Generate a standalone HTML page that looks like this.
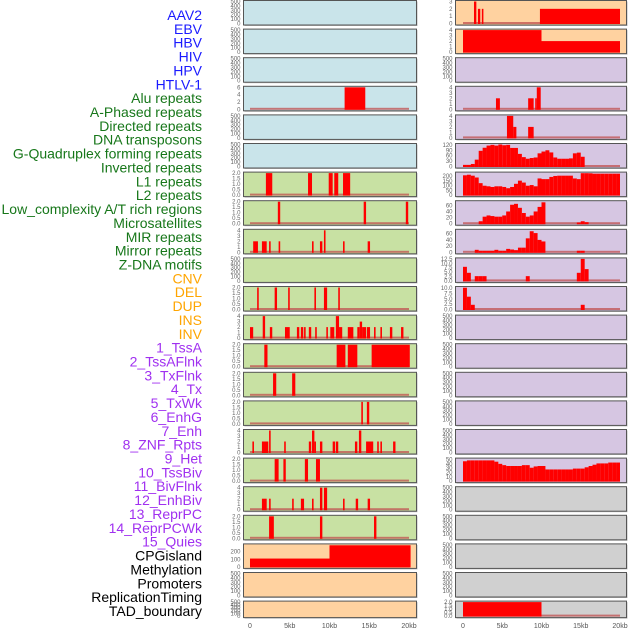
<!DOCTYPE html>
<html><head><meta charset="utf-8">
<style>
html,body{margin:0;padding:0;background:#fff;width:630px;height:630px;overflow:hidden}
svg{display:block}
.lab{font-family:"Liberation Sans",sans-serif;font-size:14px}
.tk{font-family:"Liberation Sans",sans-serif;font-size:6px;fill:#666}
.xt{font-family:"Liberation Sans",sans-serif;font-size:7px;fill:#555}
</style></head>
<body>
<svg id="chart" width="630" height="630" xmlns="http://www.w3.org/2000/svg"></svg>
<script>
const trackLabels = ["AAV2","EBV","HBV","HIV","HPV","HTLV-1","Alu repeats","A-Phased repeats","Directed repeats","DNA transposons","G-Quadruplex forming repeats","Inverted repeats","L1 repeats","L2 repeats","Low_complexity A/T rich regions","Microsatellites","MIR repeats","Mirror repeats","Z-DNA motifs","CNV","DEL","DUP","INS","INV","1_TssA","2_TssAFlnk","3_TxFlnk","4_Tx","5_TxWk","6_EnhG","7_Enh","8_ZNF_Rpts","9_Het","10_TssBiv","11_BivFlnk","12_EnhBiv","13_ReprPC","14_ReprPCWk","15_Quies","CPGisland","Methylation","Promoters","ReplicationTiming","TAD_boundary"];
const trackGroups = [0,0,0,0,0,0,1,1,1,1,1,1,1,1,1,1,1,1,1,2,2,2,2,2,3,3,3,3,3,3,3,3,3,3,3,3,3,3,3,4,4,4,4,4];
const xTickLabels = ["0","5kb","10kb","15kb","20kb"];
const xTickValues = [0,5,10,15,20];

const leftYMax = [500,500,500,6,500,500,2,2,4,500,2,4,2,2,2,4,2,4,2,290,500,500];
const leftTicks = [
 [0,100,200,300,400,500],[0,100,200,300,400,500],[0,100,200,300,400,500],[0,2,4,6],[0,100,200,300,400,500],[0,100,200,300,400,500],
 [0,0.5,1,1.5,2],[0,0.5,1,1.5,2],[0,1,2,3,4],[0,100,200,300,400,500],[0,0.5,1,1.5,2],[0,1,2,3,4],[0,0.5,1,1.5,2],[0,0.5,1,1.5,2],[0,0.5,1,1.5,2],
 [0,1,2,3,4],[0,0.5,1,1.5,2],[0,1,2,3,4],[0,0.5,1,1.5,2],[0,100,200],[0,100,200,300,400,500],[0,100,200,300,400,500]];
const rightYMax = [3,4,500,4,4,122,230,72,71,12.5,10.3,500,500,500,500,500,51,500,500,500,500,2];
const rightTicks = [
 [0,1,2,3],[0,1,2,3,4],[0,100,200,300,400,500],[0,1,2,3,4],[0,1,2,3,4],[0,30,60,90,120],[0,50,100,150,200],[0,20,40,60],[0,20,40,60],
 [0,2.5,5,7.5,10,12.5],[0,2.5,5,7.5,10],[0,100,200,300,400,500],[0,100,200,300,400,500],[0,100,200,300,400,500],[0,100,200,300,400,500],[0,100,200,300,400,500],
 [0,10,20,30,40,50],[0,100,200,300,400,500],[0,100,200,300,400,500],[0,100,200,300,400,500],[0,100,200,300,400,500],[0,0.5,1,1.5,2]];
const oneDecimalTicks = [[6,7,10,12,13,14,16,18],[9,10,21]];

const leftSegments = [
 [],[],[],
 [[11.9,14.5,6]],
 [],[],
 [[2.0,2.8,2],[7.3,7.8,2],[9.9,10.4,2],[10.6,11.1,2],[11.7,12.6,2]],
 [[3.5,3.8,2],[14.3,14.6,2],[19.6,19.9,2]],
 [[0.4,1.0,2],[1.5,2.1,2],[2.4,2.6,2],[3.6,3.8,2],[7.8,8.0,2],[8.8,9.1,2],[9.3,9.5,4],[11.7,11.9,2],[14.8,15.1,2]],
 [],
 [[0.9,1.1,2],[3.1,3.4,2],[4.8,5.0,2],[8.1,8.3,2],[9.3,9.7,2],[11.1,11.3,2]],
 [[0.0,0.4,2],[1.6,1.9,4],[2.5,2.8,2],[4.4,5.0,2],[5.9,6.2,2],[6.4,6.7,2],[6.8,7.0,2],[7.4,7.7,2],[8.2,8.4,2],[9.6,9.8,2],[10.1,10.6,2],[10.8,11.2,4],[11.2,11.6,2],[12.3,13.0,2],[13.5,13.8,2],[13.8,14.1,3],[14.1,14.6,2],[14.7,15.1,2],[15.6,15.8,2],[16.4,16.6,2],[17.6,17.9,2],[19.0,19.3,2]],
 [[1.8,2.2,2],[10.9,12.0,2],[12.3,13.5,2],[15.3,20.1,2]],
 [[2.9,3.3,2],[5.3,5.7,2]],
 [[14.0,14.2,2],[14.7,15.0,2]],
 [[0.3,0.5,2],[1.5,2.3,2],[2.4,2.6,4],[4.3,4.5,2],[7.4,7.7,2],[7.8,8.1,4],[8.1,8.3,2],[8.8,9.1,2],[10.4,10.7,2],[10.8,11.1,2],[13.2,13.5,2],[13.7,14.0,4],[14.6,15.5,2],[16.0,16.2,2],[16.4,16.6,2],[18.0,18.3,2]],
 [[3.1,3.6,2],[4.2,4.5,2],[6.9,7.3,2],[8.3,8.8,2]],
 [[1.5,2.1,2],[2.4,2.6,2],[5.3,5.5,2],[6.4,6.8,2],[7.8,8.0,2],[8.8,9.1,4],[9.3,9.7,4],[11.7,11.9,2],[13.3,13.6,2],[14.8,15.1,2]],
 [[2.4,3.0,2],[8.8,9.1,2],[15.6,15.9,2]],
 [[0,10,110],[10,20.2,285]],
 [],[]];
const rightSegments = [
 [[1.4,1.7,3],[1.9,2.2,2],[2.4,2.6,2],[9.8,20.0,2]],
 [[0,10,4],[10,20,2]],
 [],
 [[4.2,4.7,2],[8.3,9.0,2],[9.2,9.4,2],[9.4,9.9,4]],
 [[5.6,6.4,4],[6.4,6.8,2],[8.3,9.0,2]],
 [],[],[],[],[],[],
 [],[],[],[],[],[],
 [],[],[],[],
 [[0,10,2]]];

const gQuadBins = [9,9,14,38,87,104,116,120,116,122,118,120,103,103,70,52,43,47,50,73,83,90,78,50,43,43,43,45,73,77,54];
const invertedBins = [207,213,203,184,125,98,92,85,92,92,85,72,85,118,151,131,98,105,92,174,167,167,190,200,203,203,203,203,174,167,229,229,228,224,224,224,224,224,224,224];
const lowComplexityBins = [0,0,0,0,8,23,27,25,23,23,27,40,62,65,52,35,23,27,40,55,70,0,0,0,0,0,0,0,0,4,8,5];
const microsatBins = [0,0,0,8,5,5,5,5,8,5,5,11,9,7,15,15,45,68,62,40,35,0,0,0,0,0,0,0,0,5,5];
const mirBins = [8,4.6,0,2.7,2.7,2.7,0,0,0,0,0,0,0,0,0,0,2.7,0,0,0,0,0,0,0,0,0,0,0,0,4.6,12.5,6.7];
const mirrorBins = [10.2,6,2.2,0,0,0,0,0,0,0,0,0,0,0,0,0,0,0,0,0,0,0,0,0,0,0,0,0,0,0,2.2,0];
const hetBins = [46,48,48,48,48,48,48,48,45,40,37,35,35,35,35,37,37,31,34,35,35,27,27,27,27,27,27,27,29,29,29,32,35,38,41,41,41,43,43,43];
const rightBinPanels = [[5,gQuadBins],[6,invertedBins],[7,lowComplexityBins],[8,microsatBins],[9,mirBins],[10,mirrorBins],[16,hetBins]];
rightBinPanels.forEach(function(p){
  const segs = [];
  p[1].forEach(function(v,k){ if(v>0) segs.push([k*0.5,k*0.5+0.5,v]); });
  rightSegments[p[0]] = segs;
});

const leftBg = ["#c9e4ea","#c9e4ea","#c9e4ea","#c9e4ea","#c9e4ea","#c9e4ea","#c8e1a3","#c8e1a3","#c8e1a3","#c8e1a3","#c8e1a3","#c8e1a3","#c8e1a3","#c8e1a3","#c8e1a3","#c8e1a3","#c8e1a3","#c8e1a3","#c8e1a3","#ffd2a0","#ffd2a0","#ffd2a0"];
const rightBg = ["#ffd2a0","#ffd2a0","#d6c6e2","#d6c6e2","#d6c6e2","#d6c6e2","#d6c6e2","#d6c6e2","#d6c6e2","#d6c6e2","#d6c6e2","#d6c6e2","#d6c6e2","#d6c6e2","#d6c6e2","#d6c6e2","#d6c6e2","#d0d0d0","#d0d0d0","#d0d0d0","#d0d0d0","#d0d0d0"];
const groupColors = ["#1a1aff","#17771a","#ffa500","#a030f0","#000000"];

const NS = "http://www.w3.org/2000/svg";
const svg = document.getElementById("chart");
function mk(tag, attrs, parent){
  const e = document.createElementNS(NS, tag);
  for (const k in attrs) e.setAttribute(k, attrs[k]);
  (parent||svg).appendChild(e);
  return e;
}
function xScale(col, kb){ return col===0 ? 250 + kb*7.95 : 463 + kb*7.85; }
function rowTop(i){ return 0.5 + i*28.6; }
function rowH(i){ return i===21 ? 16.5 : 24.5; }
function yScale(i, v, ymax){ const t=rowTop(i), h=rowH(i); return t+1 + (1 - v/ymax)*(h-2.5); }

trackLabels.forEach(function(name,i){
  const t = mk("text",{x:202,y:15+i*13.86+5,"text-anchor":"end",class:"lab",fill:groupColors[trackGroups[i]]});
  
  
  t.textContent = name;
});

function drawPanel(col, i){
  const x0 = col===0 ? 243.5 : 455.5;
  const w = col===0 ? 173 : 171;
  const ymax = col===0 ? leftYMax[i] : rightYMax[i];
  const ticks = col===0 ? leftTicks[i] : rightTicks[i];
  const segs = col===0 ? leftSegments[i] : rightSegments[i];
  const dec = oneDecimalTicks[col].indexOf(i) >= 0;
  const g = mk("g",{});
  
  
  mk("rect",{x:x0+1,y:rowTop(i)+1,width:w,height:rowH(i),fill:"#bbb"},g);
  const bg = mk("rect",{x:x0,y:rowTop(i),width:w,height:rowH(i),fill:col===0?leftBg[i]:rightBg[i]},g);
  
  
  if (segs.length){
    const bl = mk("rect",{x:xScale(col,0),y:yScale(i,0,ymax)-1.5,width:xScale(col,20)-xScale(col,0),height:2,fill:"#c05050","fill-opacity":"0.75"},g);
    
    
  }
  segs.forEach(function(s){
    const xa = xScale(col,s[0]), xb = xScale(col,s[1]);
    const yt = Math.max(rowTop(i), yScale(i,s[2],ymax));
    const yb = yScale(i,0,ymax);
    const r = mk("rect",{x:xa,y:yt,width:Math.max(1.5,xb-xa),height:yb-yt+0.5,fill:"#ff0000"},g);
    
    
  });
  mk("rect",{x:x0,y:rowTop(i),width:w,height:rowH(i),fill:"none",stroke:"#555","stroke-width":1},g);
  ticks.forEach(function(v){
    const t = mk("text",{x:x0-3,y:yScale(i,v,ymax)+2,"text-anchor":"end",class:"tk"},g);
    
    
    t.textContent = dec ? v.toFixed(1) : String(v);
  });
}
for (let i=0;i<22;i++){ drawPanel(0,i); drawPanel(1,i); }

[0,1].forEach(function(col){
  xTickValues.forEach(function(v,k){
    const t = mk("text",{x:xScale(col,v),y:628,"text-anchor":"middle",class:"xt"});
    
    
    t.textContent = xTickLabels[k];
  });
});
</script>
</body></html>
